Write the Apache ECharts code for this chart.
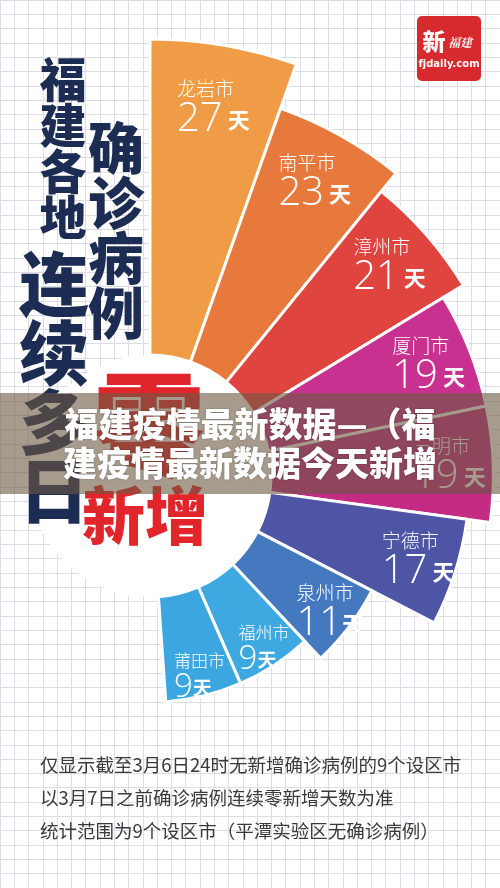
<!DOCTYPE html>
<html>
<head>
<meta charset="utf-8">
<script src="https://cdn.jsdelivr.net/npm/echarts@6/dist/echarts.min.js"></script>
<style>
html,body{margin:0;padding:0;background:#fff;}
#chart{width:500px;height:888px;}
</style>
</head>
<body>
<div id="chart"></div>
<script>
// ---- data ----
const cities = ['龙岩市', '南平市', '漳州市', '厦门市', '三明市', '宁德市', '泉州市', '福州市', '莆田市'];
const days = [27, 23, 21, 19, 19, 17, 11, 9, 9];
const dayUnit = '天';
const titleCol1 = '福建各地';
const titleCol2 = '确诊病例';
const titleCol3 = '连续多日';
const titleRed1 = '零';
const titleRed2 = '新增';
const bannerLines = ['福建疫情最新数据—（福', '建疫情最新数据今天新增'];
const noteLines = [
  '仅显示截至3月6日24时无新增确诊病例的9个设区市',
  '以3月7日之前确诊病例连续零新增天数为准',
  '统计范围为9个设区市（平潭实验区无确诊病例）'
];
const logoMain = '新';
const logoSub = '福建';
const logoUrl = 'fjdaily.com';

// ---- styles ----
const sliceColors = ['#F09B45', '#E8793D', '#E0443F', '#C8318F', '#C42C84', '#4E55A5', '#4479BF', '#3EA9E1', '#3BA6E0'];
const navy = '#1C2C52';
const red = '#E1262B';
const CJK = '"Noto Sans CJK SC", "Noto Sans", sans-serif';
const NUM = '"Open Sans", "Noto Sans", sans-serif';

const chart = echarts.init(document.getElementById('chart'), null, {renderer: 'canvas'});

const center = [150, 476];
const hiddenAxis = {
  axisLine: {show: false}, axisTick: {show: false}, axisLabel: {show: false}, splitLine: {show: false}
};

const barData = days.map((v, i) => ({value: v, itemStyle: {color: sliceColors[i]}}));

const option = {
  backgroundColor: '#ffffff',
  animation: false,
  grid: {left: 0, right: 0, top: 0, bottom: 0},
  xAxis: {
    type: 'value', min: 0, max: 35, interval: 1,
    axisLine: {show: false}, axisTick: {show: false}, axisLabel: {show: false},
    splitLine: {show: true, lineStyle: {color: '#DCDDE6', width: 1}}
  },
  yAxis: {
    type: 'value', min: 0, max: 62, interval: 1,
    axisLine: {show: false}, axisTick: {show: false}, axisLabel: {show: false},
    splitLine: {show: true, lineStyle: {color: '#DCDDE6', width: 1}}
  },
  polar: [
    {center: center, radius: [121, 437]},
    {center: center, radius: [125, 621]}
  ],
  angleAxis: [
    Object.assign({polarIndex: 0, type: 'category', data: cities, startAngle: 90, endAngle: -86, clockwise: true, boundaryGap: true}, hiddenAxis),
    Object.assign({polarIndex: 1, type: 'category', data: cities, startAngle: 90, endAngle: -86, clockwise: true, boundaryGap: true}, hiddenAxis)
  ],
  radiusAxis: [
    Object.assign({polarIndex: 0, type: 'value', min: 0, max: 27}, hiddenAxis),
    Object.assign({polarIndex: 1, type: 'value', min: 0, max: 27}, hiddenAxis)
  ],
  series: [
    {type: 'scatter', data: [], silent: true},
    {
      type: 'pie', silent: true, center: center, radius: [0, 121], z: 3,
      label: {show: false}, labelLine: {show: false},
      itemStyle: {color: '#ffffff'},
      data: [{value: 1, name: ''}]
    },
    {
      type: 'bar', coordinateSystem: 'polar', polarIndex: 0, silent: true, z: 4,
      barCategoryGap: '0%',
      itemStyle: {borderColor: '#ffffff', borderWidth: 3},
      label: {show: false},
      data: barData
    },
    {
      type: 'bar', coordinateSystem: 'polar', polarIndex: 1, silent: true, z: 5,
      barCategoryGap: '0%',
      itemStyle: {color: 'rgba(0,0,0,0)', borderWidth: 0},
      label: {
        show: true, position: 'middle', rotate: 0, color: '#fff',
        formatter: function (p) {
          const name = cities[p.dataIndex];
          if (p.value > 10) {
            return '{n|' + name + '}\n{v|' + p.value + '}{d|' + (p.value >= 17 ? ' ' : '') + dayUnit + '}';
          }
          return '{ns|' + name + '}\n{vs|' + p.value + '}{ds|' + dayUnit + '}';
        },
        rich: {
          n: {fontSize: 19, fontFamily: CJK, fontWeight: 300, color: '#fff', lineHeight: 22, align: 'left'},
          v: {fontSize: 40, fontFamily: NUM, fontWeight: 300, color: '#fff', lineHeight: 40, align: 'left'},
          d: {fontSize: 22, fontFamily: CJK, fontWeight: 'bold', color: '#fff', lineHeight: 40, align: 'left'},
          ns: {fontSize: 17, fontFamily: CJK, fontWeight: 300, color: '#fff', lineHeight: 20, align: 'left'},
          vs: {fontSize: 33, fontFamily: NUM, fontWeight: 300, color: '#fff', lineHeight: 34, align: 'left'},
          ds: {fontSize: 19, fontFamily: CJK, fontWeight: 'bold', color: '#fff', lineHeight: 34, align: 'left'}
        }
      },
      data: days
    }
  ],
  graphic: [
    // title columns
    {type: 'text', z: 20, x: 63, y: 56, style: {text: titleCol1.split('').join('\n'), fill: navy, font: '900 47px ' + CJK, lineHeight: 46, align: 'center', verticalAlign: 'top'}},
    {type: 'text', z: 20, x: 116, y: 120, style: {text: titleCol2.split('').join('\n'), fill: navy, font: '900 56px ' + CJK, lineHeight: 55, align: 'center', verticalAlign: 'top'}},
    {type: 'text', z: 20, x: 54, y: 250, style: {text: titleCol3.split('').join('\n'), fill: navy, font: '900 70px ' + CJK, lineHeight: 69, align: 'center', verticalAlign: 'top'}},
    {type: 'text', z: 20, x: 149, y: 368, style: {text: titleRed1, fill: red, font: '900 112px ' + CJK, align: 'center', verticalAlign: 'top'}},
    {type: 'text', z: 20, x: 145, y: 484, style: {text: titleRed2, fill: red, font: '900 63px ' + CJK, align: 'center', verticalAlign: 'top'}},
    // banner
    {type: 'rect', z: 30, shape: {x: 0, y: 393, width: 500, height: 101}, style: {fill: 'rgba(108,88,66,0.6)'}},
    {type: 'text', z: 31, x: 250, y: 405, style: {text: bannerLines.join('\n'), fill: '#fff', font: '900 34px ' + CJK, lineHeight: 39, align: 'center', verticalAlign: 'top', textShadowColor: 'rgba(0,0,0,0.35)', textShadowBlur: 2}},
    // logo
    {type: 'rect', z: 20, shape: {x: 417, y: 16, width: 64, height: 65, r: 5}, style: {fill: '#D72A2E'}},
    {type: 'text', z: 21, x: 434, y: 41, style: {text: logoMain, fill: '#fff', font: '900 23px ' + CJK, align: 'center', verticalAlign: 'middle'}},
    {type: 'text', z: 21, x: 460, y: 42, style: {text: logoSub, fill: '#fff', font: 'italic bold 12px "Noto Serif CJK SC", serif', align: 'center', verticalAlign: 'middle'}},
    {type: 'text', z: 21, x: 449, y: 64, style: {text: logoUrl, fill: '#fff', font: 'bold 10px "DejaVu Sans", sans-serif', align: 'center', verticalAlign: 'middle'}},
    // notes
    {type: 'text', z: 20, x: 40, y: 748, style: {text: noteLines.join('\n'), fill: '#3A3A3A', font: '18.5px ' + CJK, lineHeight: 33, align: 'left', verticalAlign: 'top'}}
  ]
};
chart.setOption(option);
</script>
</body>
</html>
